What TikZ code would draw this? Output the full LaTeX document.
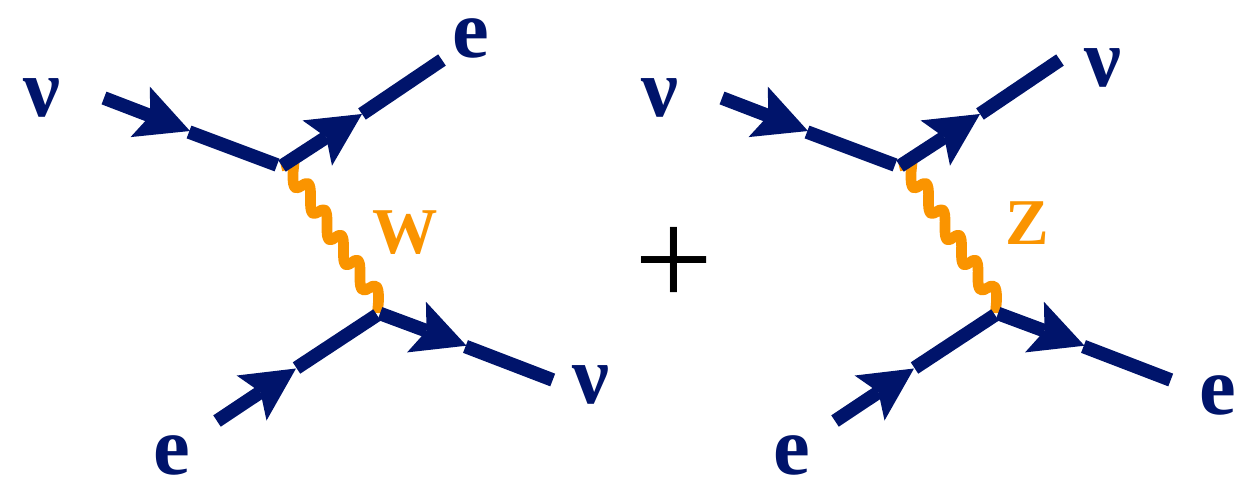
\documentclass[tikz,border=0pt]{standalone}
\usepackage{fontspec}
\setmainfont{Liberation Serif}
\usetikzlibrary{arrows.meta}
\definecolor{fermion}{HTML}{00146B}
\definecolor{boson}{HTML}{FA9400}
\tikzset{
  fline/.style={draw=fermion,line width=10.2pt,line cap=butt},
  farrow/.style={fline,-{Stealth[length=40pt,width=40.5pt,inset=8pt,fill=fermion,line width=0pt]}},
  wavy/.style={draw=boson,line width=8pt,line cap=butt,line join=round},
  flabel/.style={text=fermion,inner sep=0pt,anchor=base west,font=\fontsize{62}{62}\selectfont\bfseries},
  blabel/.style={text=boson,inner sep=0pt,anchor=base west,font=\fontsize{49}{49}\selectfont\bfseries},
  pluslabel/.style={text=black,inner sep=0pt,anchor=base west,font=\fontsize{105}{105}\selectfont}
}
\newcommand{\feynlines}{%
  \coordinate (a1) at (104,98);   \coordinate (a2) at (190,131);
  \coordinate (a3) at (189,132);  \coordinate (v1) at (277,165);
  \coordinate (b1) at (282,166);  \coordinate (b2) at (362,114);
  \coordinate (b3) at (362,114);  \coordinate (b4) at (442,60);
  \coordinate (c1) at (217,421);  \coordinate (c2) at (296,368.5);
  \coordinate (c3) at (296.5,368);\coordinate (v2) at (377,315);
  \coordinate (d1) at (380,313.5);\coordinate (d2) at (466.5,345.7);
  \coordinate (d3) at (465.5,346.5);\coordinate (d4) at (552.7,380);
  \coordinate (w0) at (281,166);
  \coordinate (w1) at (293,173);
  \coordinate (w2) at (310.5,198.3);
  \coordinate (w3) at (327,225);
  \coordinate (w4) at (343.5,250);
  \coordinate (w5) at (360,275);
  \coordinate (w6) at (378.5,301);
  \coordinate (w7) at (377.5,313);
  \draw[wavy] (w0) -- (294,163) -- (w1)
     .. controls +(-1.5,38) and +(1.5,-38) .. (w2)
     .. controls +(-1.5,38) and +(1.5,-38) .. (w3)
     .. controls +(-1.5,38) and +(1.5,-38) .. (w4)
     .. controls +(-1.5,38) and +(1.5,-38) .. (w5)
     .. controls +(-1.5,38) and +(1.5,-38) .. (w6) -- (w7);
  \draw[farrow] (a1) -- (a2);
  \draw[fline] (a3) -- (v1);
  \draw[farrow] (b1) -- (b2);
  \draw[fline] (b3) -- (b4);
  \draw[farrow] (c1) -- (c2);
  \draw[fline] (c3) -- (v2);
  \draw[farrow] (d1) -- (d2);
  \draw[fline] (d3) -- (d4);
}
\begin{document}
\begin{tikzpicture}[x=0.75pt,y=-0.75pt]
\useasboundingbox (0,0) rectangle (1235,481);
\begin{scope}[name prefix=l-]
  \feynlines
  \node[flabel] (l1) at (23,117) {ν};
  \node[flabel] (l2) at (452,58) {e};
  \node[flabel] (l3) at (572,403) {ν};
  \node[flabel] (l4) at (153,474) {e};
  \node[blabel] (l5) at (372,253) {W};
\end{scope}
\node[pluslabel] (plus) at (634,306) {+};
\begin{scope}[shift={(618,0)},name prefix=r-]
  \feynlines
  \node[flabel] (r1) at (23,117) {ν};
  \node[flabel] (r2) at (466,87) {ν};
  \node[flabel] (r3) at (581,414) {e};
  \node[flabel] (r4) at (155,474) {e};
  \node[blabel] (r5) at (387,244) {Z};
\end{scope}
\end{tikzpicture}
\end{document}
